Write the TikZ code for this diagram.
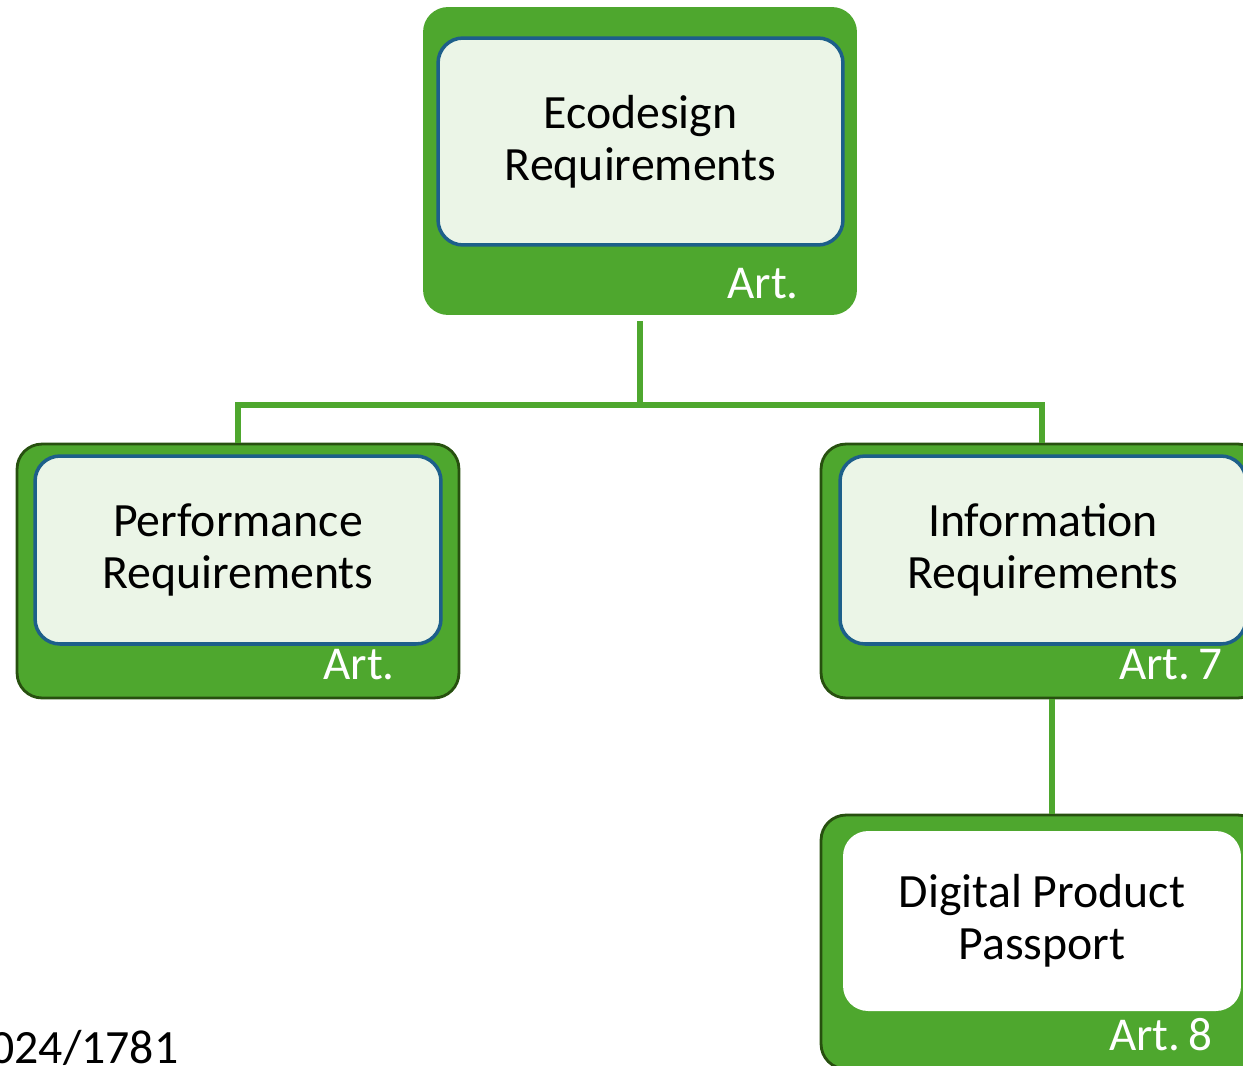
\documentclass[tikz,border=0pt]{standalone}
\usepackage{fontspec}
\setmainfont{Carlito}
\usepackage{tikz}
\definecolor{boxgreen}{HTML}{4EA72E}
\definecolor{darkgreen}{HTML}{27500F}
\definecolor{lightfill}{HTML}{EBF5E7}
\definecolor{boxblue}{HTML}{1D5F8A}

\begin{document}
\begin{tikzpicture}[x=0.02cm,y=-0.02cm,
			outer box/.style={rectangle,rounded corners=0.5cm,fill=boxgreen,draw=darkgreen,line width=1.6pt},
			inner box/.style={rectangle,rounded corners=0.5cm,fill=lightfill,draw=boxblue,line width=2pt,
				align=center,inner sep=0pt,font=\fontsize{27.2}{29.6}\selectfont},
			art/.style={text=white,anchor=base east,inner sep=0pt,font=\fontsize{26.8}{29.6}\selectfont},
			link/.style={draw=boxgreen,line width=3.4pt}]
			\useasboundingbox (0,0) rectangle (1243,1065);
			% outer green boxes
			\node[outer box, draw=none, minimum width=8.68cm, minimum height=6.16cm] (1) at (640,161) {};
			\node[outer box, minimum width=8.84cm, minimum height=5.08cm] (2) at (238,571) {};
			\node[outer box, minimum width=8.84cm, minimum height=5.08cm] (3) at (1042,571) {};
			\node[outer box, minimum width=8.84cm, minimum height=5.08cm] (4) at (1042,942) {};
			% inner text boxes
			\node[inner box, minimum width=8.1cm, minimum height=4.14cm] (1i) at (640.5,141.5) {Ecodesign\\Requirements};
			\node[inner box, minimum width=8.12cm, minimum height=3.76cm] (2i) at (238,550) {Performance\\Requirements};
			\node[inner box, minimum width=8.12cm, minimum height=3.76cm] (3i) at (1043,550) {Information\\Requirements};
			\node[inner box, fill=white, draw=none, minimum width=7.96cm, minimum height=3.6cm] (4i) at (1042,921) {Digital Product\\Passport};
			% article labels
			\node[art] (1a) at (799,298) {Art.};
			\node[art] (2a) at (395,679) {Art.};
			\node[art] (3a) at (1223,679) {Art.\hspace{0.18em}7};
			\node[art] (4a) at (1213,1050) {Art.\hspace{0.18em}8};
			\node[anchor=base west, inner sep=0pt, font=\fontsize{27.2}{29.6}\selectfont] (ref) at (-10,1063) {024/1781};
			% connectors
			\coordinate (fork) at (640,405);
			\draw[link] ([yshift=-0.1cm]1.south) -- (fork) -| (2.north);
			\draw[link] (fork) -| (3.north);
			\draw[link] ([xshift=0.2cm]3.south) -- ([xshift=0.2cm]4.north);
		\end{tikzpicture}
\end{document}
